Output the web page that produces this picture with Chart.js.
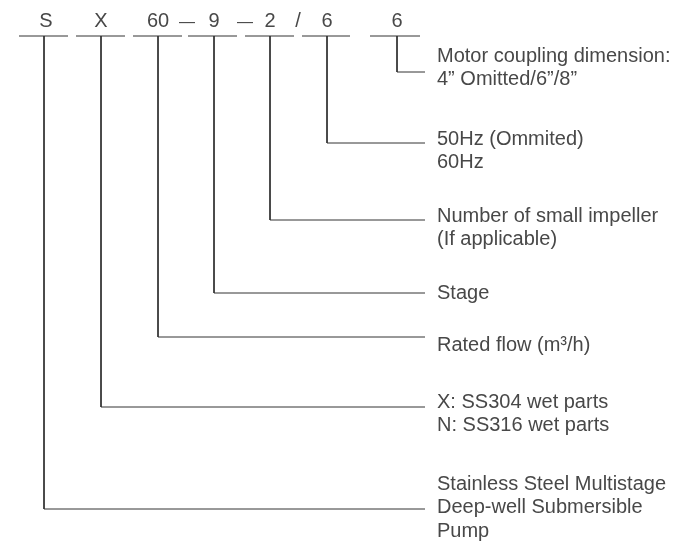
<!DOCTYPE html>
<html lang="en">
<head>
    <meta charset="UTF-8">
    <title>Model code</title>
    <script src="https://cdn.jsdelivr.net/npm/chart.js"></script>
    <style>
        html, body { margin: 0; padding: 0; background: #fff; }
        #wrap { width: 677px; height: 548px; }
    </style>
</head>
<body>
    <div id="wrap"><canvas id="myChart"></canvas></div>
    <script>
        // Code segments, left to right
        const codes = ['S', 'X', '60', '9', '2', '6', '6'];
        const codeX = [44, 101, 158, 214, 270, 327, 397];
        const underlineFrom = [19, 76, 133, 188, 245, 302, 370];
        const underlineTo = [68, 125, 182, 237, 294, 350, 420];
        const elbowY = [509, 407, 337, 293, 220, 143, 72];
        const separators = ['—', '—', '/'];
        const separatorX = [187, 245, 298];

        // Descriptions (one per code)
        const descriptions = [
            ['Stainless Steel Multistage', 'Deep-well Submersible', 'Pump'],
            ['X: SS304 wet parts', 'N: SS316 wet parts'],
            ['Rated flow (m³/h)'],
            ['Stage'],
            ['Number of small impeller', '(If applicable)'],
            ['50Hz (Ommited)', '60Hz'],
            ['Motor coupling dimension:', '4” Omitted/6”/8”']
        ];
        const descY = [484, 402, 345, 293, 216, 139, 56];

        const codeY = 20, underlineY = 36, lineEndX = 425, textX = 437, lineGap = 23.5;
        const ink = '#484848';
        const font = '20px "Liberation Sans", Arial, sans-serif';

        const datasets = [];
        codes.forEach((c, i) => {
            datasets.push({
                data: [{ x: underlineFrom[i], y: underlineY }, { x: underlineTo[i], y: underlineY }],
                showLine: true, borderColor: '#333', borderWidth: 1, pointRadius: 0, fill: false
            });
            datasets.push({
                data: [{ x: codeX[i], y: underlineY }, { x: codeX[i], y: elbowY[i] }, { x: lineEndX, y: elbowY[i] }],
                showLine: true, borderColor: '#333', borderWidth: 1, pointRadius: 0, fill: false
            });
        });

        const labelsPlugin = {
            id: 'labels',
            afterDatasetsDraw(chart) {
                const { ctx, scales: { x, y } } = chart;
                ctx.save();
                ctx.fillStyle = ink;
                ctx.font = font;
                ctx.textAlign = 'center';
                ctx.textBaseline = 'middle';
                codes.forEach((c, i) => {
                    const shift = i === 0 ? 2 : 0; // the S sits a touch right of its stem
                    ctx.fillText(c, x.getPixelForValue(codeX[i] + shift), y.getPixelForValue(codeY + 1));
                });
                separators.forEach((s, i) => {
                    const dash = s === '—';
                    ctx.font = dash ? '16px "Liberation Sans", Arial, sans-serif' : font;
                    ctx.fillText(s, x.getPixelForValue(separatorX[i]), y.getPixelForValue(codeY + (dash ? 3 : 1)));
                });
                ctx.font = font;
                ctx.textAlign = 'left';
                descriptions.forEach((lines, i) => {
                    lines.forEach((t, j) => ctx.fillText(t, x.getPixelForValue(textX), y.getPixelForValue(descY[i] + j * lineGap)));
                });
                ctx.restore();
            }
        };

        new Chart(document.getElementById('myChart'), {
            type: 'scatter',
            data: { datasets },
            options: {
                responsive: true,
                maintainAspectRatio: false,
                animation: false,
                layout: { padding: 0 },
                plugins: { legend: { display: false }, tooltip: { enabled: false } },
                scales: {
                    x: { type: 'linear', min: 0, max: 677, display: false },
                    y: { type: 'linear', min: 0, max: 548, reverse: true, display: false }
                }
            },
            plugins: [labelsPlugin]
        });
    </script>
</body>
</html>
